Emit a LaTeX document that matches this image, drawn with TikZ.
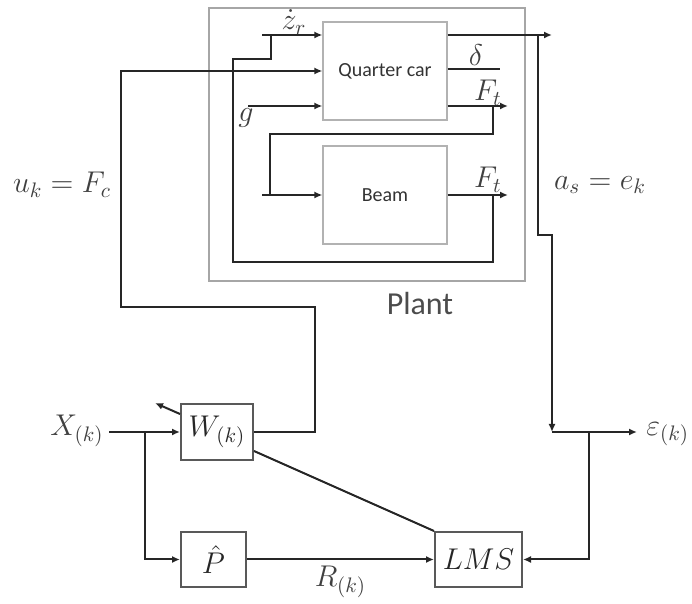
\RequirePackage{fix-cm}
\documentclass[tikz,border=0pt]{standalone}
\usepackage{fontspec}
\newfontfamily\carlito{Carlito}
\usetikzlibrary{positioning, arrows.meta}

\begin{document}
\begin{tikzpicture}[x=0.5pt, y=-0.5pt,
    wire/.style={line width=1pt, draw=black!85},
    arr/.style={-{Latex[length=4pt, width=3.5pt]}},
    sysbox/.style={rectangle, draw=gray!60, line width=0.6pt,
                   minimum width=62pt, minimum height=49pt,
                   font=\carlito\fontsize{10}{12}\selectfont, text=black!80},
    filt/.style={rectangle, draw=black!65, line width=1pt, inner sep=0pt,
                 minimum height=28pt, font=\fontsize{15}{18}\selectfont, text=black!85},
    lbl/.style={font=\fontsize{15}{18}\selectfont, text=black!75, inner sep=1pt}
]
  \useasboundingbox (0,0) rectangle (692,604);

  % Plant
  \node[draw=gray!70, line width=1pt, minimum width=158pt, minimum height=136.5pt] (plant) at (367,144.5) {};
  \node[font=\carlito\fontsize{16}{19}\selectfont, text=black!70] (plantlbl) at (420,304) {Plant};
  \node[sysbox] (qcar) at (385,71) {Quarter car};
  \node[sysbox] (beam) at (385,195) {Beam};

  % Controller
  \node[filt, minimum width=36pt] (wk) at (217,432) {$W_{(k)}$};
  \node[filt, minimum width=32.5pt, minimum height=27.5pt] (ph) at (213.5,559.5) {$\hat{P}$};
  \node[filt, minimum width=43.5pt, minimum height=27.5pt] (lms) at (478.5,559.5) {$LMS$};

  % road input and beam feedback
  \coordinate (zr) at (262,35);
  \draw[wire, arr] (zr) -- (zr -| qcar.west);
  \node[lbl] (zrlbl) at (294,22) {$\dot{z}_r$};
  \coordinate (fb1) at (493,195);
  \coordinate (fb2) at (233,262);
  \coordinate (fb3) at (271,59);
  \draw[wire] (fb1) |- (fb2) |- (fb3) -- (fb3 |- zr);

  % control force
  \coordinate (uk1) at (315,307);
  \coordinate (uk2) at (121,71);
  \draw[wire, arr] (wk.east) -| (uk1) -| (uk2) -- (uk2 -| qcar.west);
  \node[lbl] (uklbl) at (62,185) {$u_k = F_c$};

  % gravity
  \coordinate (g) at (248,106);
  \draw[wire, arr] (g) -- (g -| qcar.west);
  \node[lbl] (glbl) at (246,118) {$g$};

  % Quarter car outputs
  \coordinate (dl) at (500,69);
  \draw[wire] (dl -| qcar.east) -- (dl);
  \node[lbl] (dlbl) at (476,55) {$\delta$};
  \coordinate (ft1) at (508,106);
  \draw[wire, arr] (ft1 -| qcar.east) -- (ft1);
  \node[lbl] (ft1lbl) at (488,93) {$F_t$};
  \coordinate (ft1b) at (493,106);
  \coordinate (ft1c) at (270,134);
  \coordinate (bin) at (262,195);
  \draw[wire] (ft1b) |- (ft1c) -- (ft1c |- bin);
  \draw[wire, arr] (bin) -- (beam.west);

  % Beam output
  \coordinate (ft2) at (508,195);
  \draw[wire, arr] (beam.east) -- (ft2);
  \node[lbl] (ft2lbl) at (488,180) {$F_t$};

  % acceleration / error
  \coordinate (as) at (552,35);
  \draw[wire, arr] (as -| qcar.east) -- (as);
  \coordinate (as1) at (538,35);
  \coordinate (as2) at (552,235);
  \coordinate (sum) at (552,432);
  \draw[wire, arr] (as1) |- (as2) -- (sum);
  \node[lbl] (aslbl) at (600,185) {$a_s = e_k$};
  \coordinate (eps) at (637,432);
  \draw[wire, arr] (sum) -- (eps);
  \node[lbl, anchor=west] (epslbl) at (644,434) {$\varepsilon_{(k)}$};
  \coordinate (eb) at (589,432);
  \draw[wire, arr] (eb) |- (lms.east);

  % reference signal
  \coordinate (xin) at (109,432);
  \node[lbl] (xlbl) at (77,431) {$X_{(k)}$};
  \draw[wire, arr] (xin) -- (wk.west);
  \coordinate (xb) at (145,432);
  \draw[wire, arr] (xb) |- (ph.west);
  \draw[wire, arr] (ph.east) -- node[lbl, below=2pt] (rlbl) {$R_{(k)}$} (lms.west);
  \draw[wire] ([yshift=5pt]wk.south east) -- (lms.north west);
  \coordinate (wadj) at (155,403);
  \draw[wire, arr] ([yshift=-5.5pt]wk.north west) -- (wadj);
\end{tikzpicture}
\end{document}
